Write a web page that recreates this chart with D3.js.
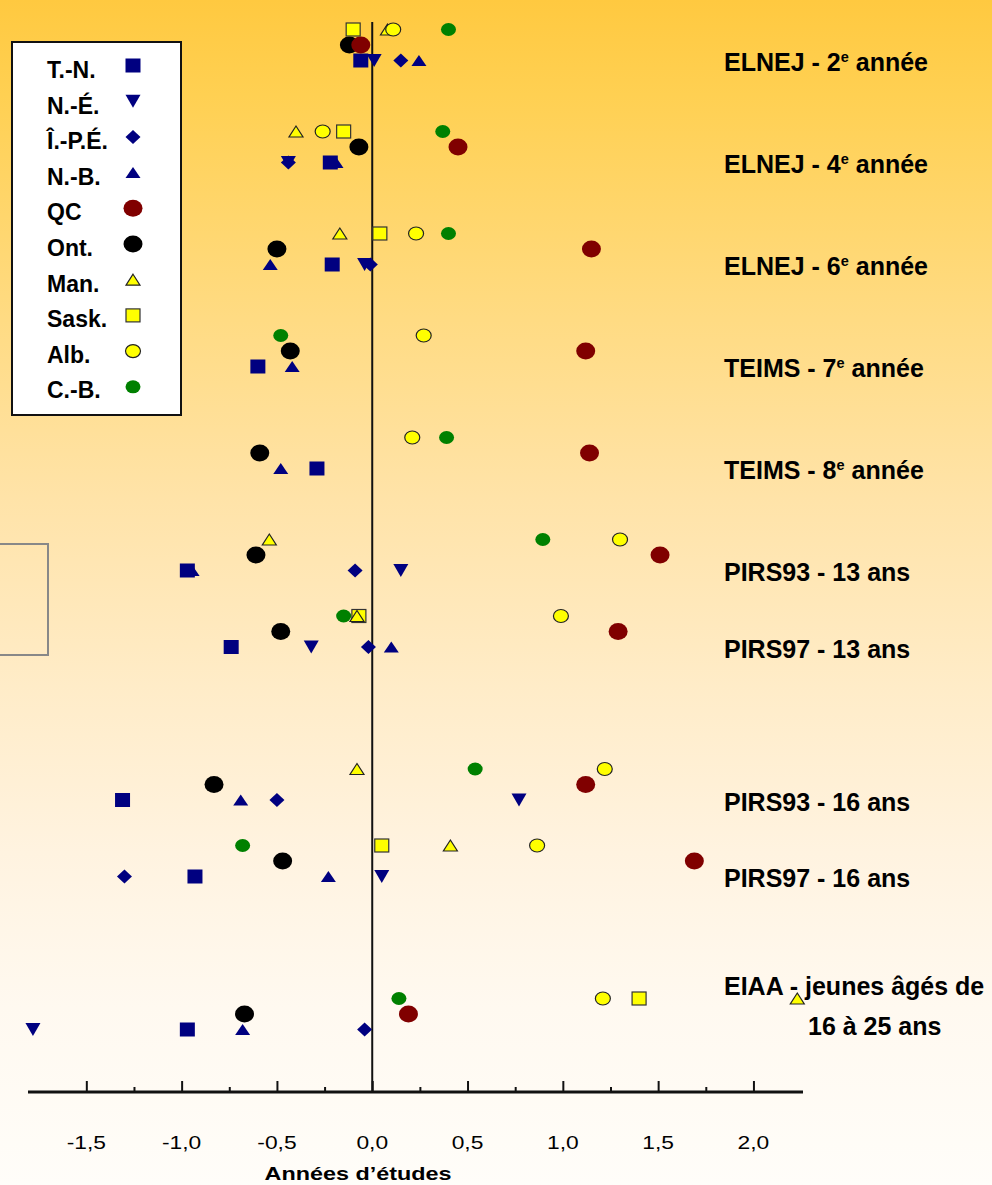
<!DOCTYPE html>
<html><head><meta charset="utf-8">
<script src="https://cdn.jsdelivr.net/npm/d3@7"></script>
<style>html,body{margin:0;padding:0;background:#fff;} svg{display:block;}</style>
</head><body><svg id="c" width="992" height="1185"></svg>
<script>
// ---------------- DATA ----------------
const categories = [
  "ELNEJ - 2e année", "ELNEJ - 4e année", "ELNEJ - 6e année",
  "TEIMS - 7e année", "TEIMS - 8e année",
  "PIRS93 - 13 ans", "PIRS97 - 13 ans",
  "PIRS93 - 16 ans", "PIRS97 - 16 ans",
  "EIAA - jeunes âgés de 16 à 25 ans"
];
const provinces = ["T.-N.", "N.-É.", "Î.-P.É.", "N.-B.", "QC", "Ont.", "Man.", "Sask.", "Alb.", "C.-B."];

const valuesTN  = [-0.06, -0.22, -0.21, -0.60, -0.29, -0.97, -0.74, -1.31, -0.93, -0.97];
const valuesNE  = [ 0.01, -0.44, -0.04,  null,  null,  0.15, -0.32,  0.77,  0.05, -1.78];
const valuesIPE = [ 0.15, -0.44, -0.01,  null,  null, -0.09, -0.02, -0.50, -1.30, -0.04];
const valuesNB  = [ 0.245,-0.19, -0.535,-0.42, -0.48, -0.945, 0.10, -0.69, -0.23, -0.68];
const valuesQC  = [-0.06,  0.45,  1.15,  1.12,  1.14,  1.51,  1.29,  1.12,  1.69,  0.19];
const valuesOnt = [-0.12, -0.07, -0.50, -0.43, -0.59, -0.61, -0.48, -0.83, -0.47, -0.67];
const valuesMan = [ 0.08, -0.40, -0.17,  null,  null, -0.54, -0.08, -0.08,  0.41,  2.23];
const valuesSask= [-0.10, -0.15,  0.04,  null,  null,  null, -0.07,  null,  0.05,  1.40];
const valuesAlb = [ 0.11, -0.26,  0.23,  0.27,  0.21,  1.30,  0.99,  1.22,  0.865, 1.21];
const valuesCB  = [ 0.40,  0.37,  0.40, -0.48,  0.39,  0.895,-0.15,  0.54, -0.68,  0.14];

const xTicksMajor = [-1.5, -1.0, -0.5, 0.0, 0.5, 1.0, 1.5, 2.0];
const xTickLabels = ["-1,5", "-1,0", "-0,5", "0,0", "0,5", "1,0", "1,5", "2,0"];
const xTicksMinor = [-1.25, -0.75, -0.25, 0.25, 0.75, 1.25, 1.75];
const axisTitle = "Années d’études";

// ---------------- LAYOUT / STYLE ----------------
const seriesValues = {
  "T.-N.": valuesTN, "N.-É.": valuesNE, "Î.-P.É.": valuesIPE, "N.-B.": valuesNB,
  "QC": valuesQC, "Ont.": valuesOnt, "Man.": valuesMan, "Sask.": valuesSask,
  "Alb.": valuesAlb, "C.-B.": valuesCB
};
// vertical slot of each category (layout spacing)
const rowSlots = [0, 4, 8, 12, 16, 20, 23, 29, 32, 38];
const style = {
  "T.-N.":  {shape: "square",  fill: "#000080", stroke: "none", tier: "bottom", w: 15, h: 14},
  "N.-É.":  {shape: "down",    fill: "#000080", stroke: "none", tier: "bottom", w: 15, h: 13},
  "Î.-P.É.":{shape: "diamond", fill: "#000080", stroke: "none", tier: "bottom", w: 15, h: 14},
  "N.-B.":  {shape: "up",      fill: "#000080", stroke: "none", tier: "bottom", w: 15, h: 11},
  "QC":     {shape: "ellipse", fill: "#800000", stroke: "none", tier: "mid", w: 19, h: 17},
  "Ont.":   {shape: "ellipse", fill: "#000000", stroke: "none", tier: "mid", w: 19, h: 17},
  "Man.":   {shape: "up",      fill: "#FFFF00", stroke: "#222", tier: "top", w: 14, h: 11},
  "Sask.":  {shape: "square",  fill: "#FFFF00", stroke: "#333", tier: "top", w: 14, h: 13},
  "Alb.":   {shape: "ellipse", fill: "#FFFF00", stroke: "#222", tier: "top", w: 15, h: 13},
  "C.-B.":  {shape: "ellipse", fill: "#008000", stroke: "none", tier: "top", w: 15, h: 13}
};
const tierOffset = {top: -15.5, mid: 0, bottom: 15.5};
const drawOrder = ["N.-B.", "T.-N.", "N.-É.", "Î.-P.É.", "Ont.", "QC", "Sask.", "Man.", "Alb.", "C.-B."];

const W = 992, H = 1185;
const svg = d3.select("#c");
const FONT = "'Liberation Sans', Arial, Helvetica, sans-serif";

// background gradient
const defs = svg.append("defs");
const grad = defs.append("linearGradient").attr("id", "bg").attr("x1", 0).attr("y1", 0).attr("x2", 0).attr("y2", 1);
[[0, "#FFC940"], [0.08, "#FFD052"], [0.25, "#FFDA7E"], [0.42, "#FFE3A8"], [0.58, "#FFECC8"],
 [0.72, "#FFF3E0"], [0.85, "#FFF9F0"], [1, "#FFFDF9"]].forEach(([o, c]) =>
  grad.append("stop").attr("offset", o).attr("stop-color", c));
svg.append("rect").attr("width", W).attr("height", H).attr("fill", "url(#bg)");

// decorative grey frame on left
svg.append("rect").attr("x", -10).attr("y", 544).attr("width", 58).attr("height", 111)
  .attr("fill", "none").attr("stroke", "#888").attr("stroke-width", 2);

// scales
const x = d3.scaleLinear().domain([-1.806, 2.26]).range([28, 803]);
const yRow = d3.scaleLinear().domain([0, 38]).range([45, 1014]);
const axisY = 1092;

// zero line
svg.append("line").attr("x1", x(0)).attr("x2", x(0)).attr("y1", 22).attr("y2", axisY)
  .attr("stroke", "#111").attr("stroke-width", 2);

// axis ticks (pointing up)
const gMaj = svg.append("g").attr("transform", `translate(0,${axisY})`)
  .call(d3.axisTop(x).tickValues(xTicksMajor).tickSize(11).tickFormat(""));
const gMin = svg.append("g").attr("transform", `translate(0,${axisY})`)
  .call(d3.axisTop(x).tickValues(xTicksMinor).tickSize(5).tickFormat(""));
[gMaj, gMin].forEach(g => {
  g.select(".domain").remove();
  g.selectAll(".tick line").attr("stroke", "#111").attr("stroke-width", 2);
});
svg.append("line").attr("x1", 28).attr("x2", 803).attr("y1", axisY).attr("y2", axisY)
  .attr("stroke", "#111").attr("stroke-width", 3);

// tick labels
svg.append("g").selectAll("text").data(xTicksMajor).join("text")
  .attr("transform", d => `translate(${x(d)},1149) scale(1.2,1)`)
  .attr("text-anchor", "middle").attr("font-family", FONT).attr("font-size", 19)
  .attr("fill", "#000").text((d, i) => xTickLabels[i]);

// axis title
svg.append("text").attr("x", 358).attr("y", 1180).attr("text-anchor", "middle")
  .attr("font-family", FONT).attr("font-size", 19).attr("font-weight", "bold")
  .attr("textLength", 187).attr("lengthAdjust", "spacingAndGlyphs").text(axisTitle);

// category labels
const labG = svg.append("g").attr("font-family", FONT).attr("font-weight", "bold").attr("font-size", 25).attr("fill", "#000");
categories.forEach((c, i) => {
  const yb = yRow(rowSlots[i]) + tierOffset.bottom + 10.5;
  const m = c.match(/^(.*\d)e( année)$/);
  if (m) {
    const t = labG.append("text").attr("x", 724).attr("y", yb);
    t.append("tspan").text(m[1]);
    t.append("tspan").attr("font-size", 14.5).attr("dy", -9.5).text("e");
    t.append("tspan").attr("dy", 9.5).text(m[2]);
  } else if (c.indexOf(" de ") > 0) {
    const k = c.indexOf(" de ") + 3;
    const yt = yRow(rowSlots[i]);
    labG.append("text").attr("x", 724).attr("y", yt - 19.5).text(c.slice(0, k));
    labG.append("text").attr("x", 808).attr("y", yt + 20.5).text(c.slice(k + 1));
  } else {
    labG.append("text").attr("x", 724).attr("y", yb).text(c);
  }
});

// marker drawing helper
function drawMarker(g, st, cx, cy) {
  const w = st.w, h = st.h;
  let el;
  if (st.shape === "square") {
    el = g.append("rect").attr("x", cx - w / 2).attr("y", cy - h / 2).attr("width", w).attr("height", h);
  } else if (st.shape === "ellipse") {
    el = g.append("ellipse").attr("cx", cx).attr("cy", cy).attr("rx", w / 2).attr("ry", h / 2);
  } else {
    const p = d3.path();
    if (st.shape === "up") {
      p.moveTo(cx, cy - h / 2); p.lineTo(cx + w / 2, cy + h / 2); p.lineTo(cx - w / 2, cy + h / 2);
    } else if (st.shape === "down") {
      p.moveTo(cx - w / 2, cy - h / 2); p.lineTo(cx + w / 2, cy - h / 2); p.lineTo(cx, cy + h / 2);
    } else {
      p.moveTo(cx, cy - h / 2); p.lineTo(cx + w / 2, cy); p.lineTo(cx, cy + h / 2); p.lineTo(cx - w / 2, cy);
    }
    p.closePath();
    el = g.append("path").attr("d", p.toString());
  }
  el.attr("fill", st.fill).attr("stroke", st.stroke).attr("stroke-width", st.stroke === "none" ? 0 : 1.2);
}

// data markers
const mG = svg.append("g");
drawOrder.forEach(name => {
  const st = style[name];
  seriesValues[name].forEach((v, i) => {
    if (v === null) return;
    drawMarker(mG, st, x(v), yRow(rowSlots[i]) + tierOffset[st.tier]);
  });
});

// legend
const lg = svg.append("g");
lg.append("rect").attr("x", 12).attr("y", 42).attr("width", 169).attr("height", 373)
  .attr("fill", "#fff").attr("stroke", "#111").attr("stroke-width", 2);
provinces.forEach((p, i) => {
  lg.append("text").attr("x", 47).attr("y", 78 + 35.6 * i)
    .attr("font-family", FONT).attr("font-weight", "bold").attr("font-size", 23).text(p);
  drawMarker(lg, style[p], 133, 65.5 + 35.7 * i);
});
</script>
</body></html>
